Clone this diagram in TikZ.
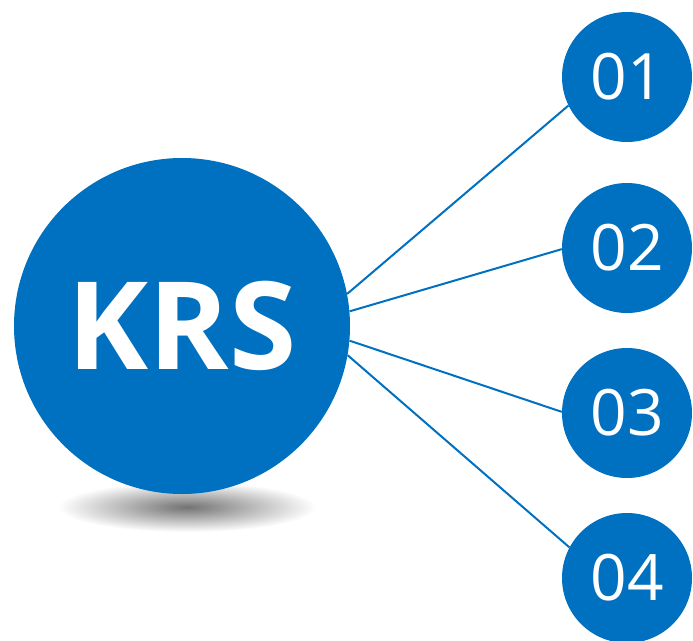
\documentclass[tikz,border=0pt]{standalone}
\usepackage{fontspec}
\setmainfont{Open Sans}
\usepackage{tikz}
\definecolor{krsblue}{RGB}{0,112,192}
\tikzstyle{hub}=[circle,fill=krsblue,text=white,inner sep=0,minimum size=336pt,font=\bfseries\fontsize{122}{122}\selectfont]
\tikzstyle{num}=[circle,fill=krsblue,text=white,inner sep=0,minimum size=130pt,font=\fontsize{64}{64}\selectfont]
\tikzstyle{link}=[draw=krsblue,line width=2pt]

\begin{document}
\begin{tikzpicture}[x=1pt,y=-1pt]
\useasboundingbox (0,0) rectangle (693,640);

\shade[inner color=black!55, outer color=white] (187,507) ellipse [x radius=129, y radius=25];

\node (krs) at (182,326) [hub] {KRS};

\node (n1) at (627,77) [num] {01};
\node (n2) at (627,248) [num] {02};
\node (n3) at (627,413) [num] {03};
\node (n4) at (627,578) [num] {04};

\draw [link] (krs.11) -- (n1.206);
\draw [link] (krs.5) -- (n2.181);
\draw [link] (krs.-5) -- (n3.179);
\draw [link] (krs.-10) -- (n4.152);

\end{tikzpicture}
\end{document}
